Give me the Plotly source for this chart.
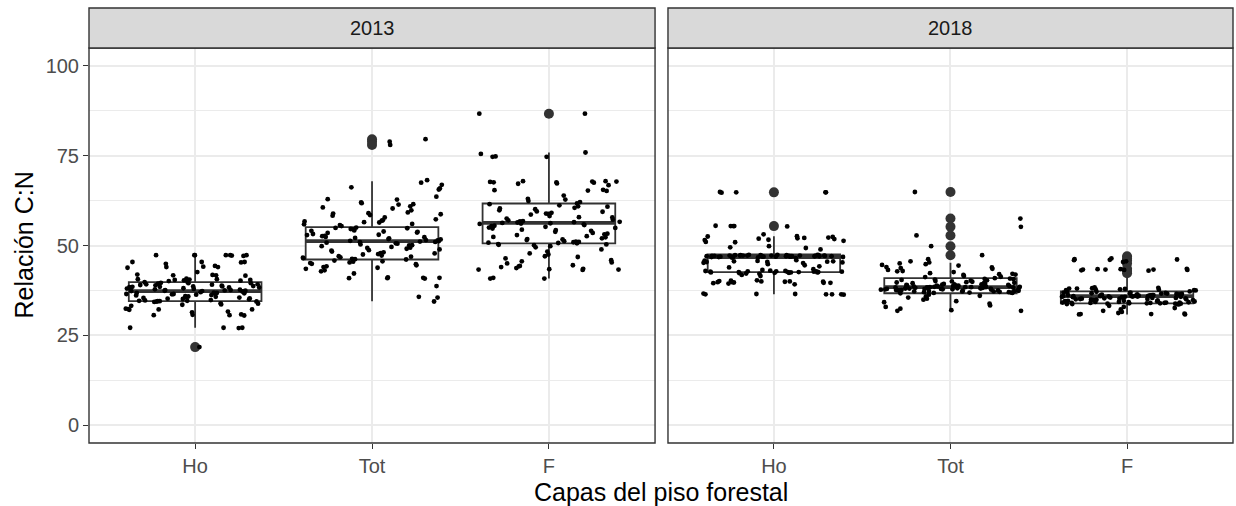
import plotly.graph_objects as go

# ---- categories and panels ----
capas = ["Ho", "Tot", "F"]
anios = ["2013", "2018"]

# ---- C:N ratio per forest-floor layer, 2013 ----
ho_2013 = [47.3, 47.3, 47.3, 47.2, 47.3, 47.3, 47.1, 47.3,
           45.4, 45.3, 45.4, 45.4, 44.9, 44.0, 44.1, 44.0, 43.8, 44.3,
           42.6, 41.7, 41.8, 41.6, 41.7, 41.9,
           40.6, 40.4, 40.5, 40.2, 40.8, 40.1, 39.9, 40.3, 40.6, 39.8, 40.4,
           39.5, 39.2, 39.6, 39.1, 39.4, 39.0, 39.3, 38.9, 39.5, 39.2, 38.8,
           38.6, 38.3, 38.5, 38.1, 38.4, 38.7, 38.2, 38.0, 38.5, 38.3, 38.6, 37.9,
           37.6, 37.4, 37.8, 37.2, 37.5, 37.1, 37.7, 37.3, 37.0, 37.4, 37.6, 37.3,
           36.8, 36.5, 36.9, 36.3, 36.6, 36.2, 36.7, 36.4, 36.1, 36.8, 36.5,
           35.8, 35.5, 35.9, 35.2, 35.6, 35.1, 35.7, 35.4, 35.0, 35.3,
           34.7, 34.5, 34.8, 34.4, 34.6, 34.5, 34.3, 34.6, 34.4,
           33.9, 33.6, 33.8, 33.2, 33.5,
           32.3, 32.2, 32.1, 32.4, 32.2, 31.6, 31.4,
           30.7, 30.6, 30.5, 30.6, 30.8,
           27.1, 27.1, 27.0, 27.1,
           21.7]

tot_2013 = [79.6, 78.9, 78.0,
            68.2, 66.9, 66.2, 65.6, 67.5, 65.9,
            63.6, 62.9, 62.8,
            62.0, 61.8, 61.4, 61.5, 60.6, 60.9, 60.3, 59.8, 59.2, 58.7, 59.0, 58.3,
            58.9, 58.5, 57.8,
            57.3, 56.9, 56.5, 57.0, 56.4, 56.0, 55.7, 55.9, 56.7, 55.4,
            55.0, 54.8, 54.5, 54.9, 54.2, 54.6, 53.9, 54.1, 53.6, 53.8, 53.2, 53.5,
            53.0, 52.7, 52.9, 52.4, 52.6, 52.1, 52.3, 51.8, 52.0, 51.5, 51.7, 51.3,
            51.4, 51.1, 51.2, 51.0, 50.8, 50.6, 50.9, 50.3, 50.5, 50.1, 49.8, 50.0,
            49.6, 49.4, 49.1, 48.9, 49.3, 48.6, 48.3, 48.7, 48.1, 47.8, 47.9, 47.5,
            47.2, 47.6, 46.9, 47.0, 46.6, 46.4, 46.7, 46.2, 46.1, 46.3,
            45.8, 45.5, 45.3, 45.6, 45.1, 44.8, 44.5, 44.9, 44.2, 43.8, 44.0, 43.5,
            43.1, 42.8, 42.2, 41.0, 40.9, 41.1, 40.8, 41.0, 40.9,
            38.7, 35.7, 35.5, 34.4]

f_2013 = [86.7, 86.7,
          75.9, 75.5, 74.8, 74.7, 74.7,
          67.8, 67.6, 67.7, 67.9, 67.8, 67.6, 67.3, 67.5, 66.8, 67.2, 67.9,
          65.3, 65.2, 65.5, 65.4,
          63.9, 63.0, 62.4, 62.8, 62.1,
          61.5, 61.7, 61.2, 60.9, 60.5, 60.8, 60.1, 59.8, 60.3, 59.5, 59.1, 59.4,
          58.8, 58.6, 58.2, 58.9, 57.9, 57.5, 57.8, 57.2, 57.0, 56.8, 56.5, 56.7,
          56.3, 56.1, 56.4, 56.2, 56.6, 55.9, 55.7, 56.0, 55.5, 55.2, 55.4, 54.9,
          54.7, 55.0, 54.4, 54.1, 53.8, 54.3, 53.5, 53.3, 52.9, 53.1, 52.6, 52.3,
          52.0, 52.4, 51.7, 51.5, 51.8, 51.2, 51.0, 50.8, 51.1, 50.7, 50.6, 50.9,
          50.3, 50.1, 50.4, 50.2, 49.5, 49.8, 48.9, 48.3, 47.8, 47.5, 47.0, 46.8,
          46.4, 45.9, 45.3, 45.0, 45.6, 44.5, 44.2, 44.0, 44.3, 43.7, 43.4, 43.3,
          43.2, 43.5, 43.3, 41.0, 40.8, 40.8]

# ---- C:N ratio per forest-floor layer, 2018 ----
ho_2018 = [64.9, 64.8, 64.8, 64.7, 64.8,
           55.3, 55.4, 55.5, 55.4, 55.4,
           53.1, 52.4, 52.6, 52.0, 51.8, 52.5, 51.9, 51.5, 52.2, 51.0, 51.3, 50.9,
           52.1, 51.6,
           49.8, 49.3, 48.9, 49.5,
           47.4, 47.2, 47.3, 47.1, 47.0, 46.9, 47.2, 47.3, 47.4, 47.0, 46.8, 47.1,
           47.2, 46.9, 47.3, 47.0, 47.2, 46.8, 47.1, 47.4, 46.9, 47.0, 47.3, 47.2,
           47.1, 46.7, 47.0, 46.8, 47.2, 47.1, 46.9, 47.3, 47.0, 46.6, 47.1, 46.8,
           47.2, 46.9, 47.0, 46.5,
           45.9, 45.6, 45.4, 45.7, 45.2, 45.5, 45.8, 45.3, 45.6, 45.1, 45.4, 44.8,
           44.5, 44.2, 43.9,
           42.8, 42.6, 42.5, 42.7, 42.9, 42.4, 42.6, 42.3, 42.8, 42.5, 42.7, 42.6,
           43.0, 42.4, 42.9, 42.6, 42.2, 42.7, 42.5, 42.8, 43.2, 43.4, 42.1, 41.8,
           41.5,
           40.3, 40.0, 39.8, 39.9, 39.6, 40.1, 39.7, 39.9, 40.2, 39.5, 39.8, 39.4,
           40.0, 39.6, 39.2,
           36.5, 36.4, 36.4, 36.5, 36.3, 36.4, 36.6, 36.4]

tot_2018 = [64.9, 57.5, 55.2, 52.8, 49.8, 47.3,
            46.2, 45.6, 45.3, 44.8, 44.4, 44.0, 43.9, 43.5, 43.2, 42.9, 42.6, 45.0,
            44.6, 43.7, 42.8,
            42.3, 42.0, 41.8, 41.5, 41.3, 41.9, 41.2, 42.1,
            40.9, 40.6, 40.8, 40.4, 40.2, 40.5, 40.1, 39.9, 40.3, 39.7, 39.5, 39.8,
            39.4, 39.2, 39.6, 39.1, 39.0, 38.9, 39.3, 38.8, 38.7, 38.9, 38.6, 38.5,
            38.7, 38.4, 38.6, 38.3, 38.5, 38.2, 38.4, 38.1, 38.3, 38.0, 38.2, 37.9,
            38.1, 37.8, 38.0, 37.7, 37.9, 37.6, 37.8, 37.5, 37.7, 37.4, 37.6, 37.3,
            37.5, 37.2, 37.4, 37.1, 37.3, 37.0, 36.9, 37.2, 36.8, 37.0, 36.7, 36.9,
            36.8, 38.5, 38.4, 38.6, 38.3, 38.2, 38.4, 38.5, 38.1, 38.3, 37.9, 38.0,
            38.2, 37.8, 38.6, 39.0, 39.2, 38.8, 38.7, 40.0, 40.7, 39.5, 37.6, 37.4,
            37.2,
            36.3, 36.0, 35.8, 35.5, 35.2, 34.9, 34.5, 34.2, 33.8, 33.3, 32.9, 32.4,
            32.0, 31.8, 31.8]

f_2018 = [46.0, 45.9, 46.2, 46.4, 45.6, 46.1, 45.4,
          43.3, 43.2, 43.4, 43.3, 43.1, 43.5, 43.2, 43.3, 43.4, 43.0,
          38.3, 38.0, 37.8, 38.1, 37.9, 37.6, 38.2, 37.7, 37.5, 38.0, 37.8, 37.6,
          37.2, 37.0, 36.9, 37.1, 36.8, 36.7, 36.9, 36.6, 36.5, 36.7, 36.4, 36.6,
          36.3, 36.5, 36.2, 36.4, 36.1, 36.3, 36.0, 36.2, 35.9, 36.1, 35.8, 36.0,
          35.9, 35.7, 35.8, 35.6, 35.9, 35.5, 35.7, 35.4, 35.6, 35.3, 35.5, 35.2,
          35.4, 35.1, 35.3, 35.0, 35.2, 34.9, 35.1, 34.8, 35.0, 34.7, 34.9, 34.6,
          34.8, 34.5, 34.7, 34.4, 34.6, 34.3, 34.5, 34.2, 34.4, 34.1, 34.3, 34.0,
          34.2, 33.9, 34.1, 33.8, 34.0, 33.7, 33.9, 33.6, 33.8, 33.7, 36.0, 35.9,
          36.1, 35.8, 36.2, 35.7, 36.0, 35.9, 34.0, 33.9, 34.1, 33.8, 34.0, 33.7,
          33.2, 32.9, 32.6, 32.2, 31.8, 31.5, 31.2, 30.9, 30.8, 31.0, 30.8, 30.9]

puntos = {"2013": [ho_2013, tot_2013, f_2013],
          "2018": [ho_2018, tot_2018, f_2018]}

# ---- box summaries (Ho, Tot, F) ----
q1 = {"2013": [34.5, 46.1, 50.6], "2018": [42.6, 36.7, 33.9]}
mediana = {"2013": [37.3, 51.2, 56.3], "2018": [46.8, 38.4, 35.9]}
q3 = {"2013": [39.8, 55.1, 61.7], "2018": [47.5, 40.9, 37.2]}
bigote_inf = {"2013": [27.1, 34.5, 40.8], "2018": [36.4, 31.8, 30.8]}
bigote_sup = {"2013": [47.3, 67.9, 75.9], "2018": [52.6, 45.2, 41.0]}

# ---- outliers flagged by the boxplot ----
atipicos_cat = {"2013": [0, 1, 1, 1, 2],
                "2018": [0, 0, 1, 1, 1, 1, 1, 1, 2, 2, 2, 2, 2, 2, 2]}
atipicos_val = {"2013": [21.7, 79.6, 78.9, 78.0, 86.7],
                "2018": [64.8, 55.4, 64.9, 57.5, 55.2, 52.8, 49.8, 47.3,
                         47.0, 46.4, 45.8, 45.0, 43.5, 42.9, 42.3]}

y_ticks = [0, 25, 50, 75, 100]

DARK = "#333333"
GRID = "#EBEBEB"
FONT = "Liberation Sans, Arial, sans-serif"
BOX_W = 0.75
JITTER_W = 0.4  # horizontal jitter half-width, in category units
GOLDEN = 0.6180339887
SQRT2 = 1.4142135624


def jitter_offsets(n, phase):
    """Deterministic scattered horizontal offsets in [-JITTER_W, JITTER_W]."""
    offs = []
    for k in range(n):
        u = ((k + 1) * GOLDEN + ((k * k) % 11) * SQRT2 / 11 + phase) % 1.0
        offs.append((u - 0.5) * 2 * JITTER_W)
    return offs


fig = go.Figure()
axes = [("x", "y"), ("x2", "y2")]

for (xa, ya), anio in zip(axes, anios):
    pos = list(range(len(capas)))
    # boxes from the summary statistics
    fig.add_trace(go.Box(
        x=pos, q1=q1[anio], median=mediana[anio], q3=q3[anio],
        lowerfence=bigote_inf[anio], upperfence=bigote_sup[anio],
        width=BOX_W, whiskerwidth=0, boxpoints=False,
        fillcolor="white", line=dict(color=DARK, width=1.8),
        xaxis=xa, yaxis=ya, showlegend=False, hoverinfo="skip"))
    # thicker median bars
    mx, my = [], []
    for p, m in zip(pos, mediana[anio]):
        mx += [p - BOX_W / 2, p + BOX_W / 2, None]
        my += [m, m, None]
    fig.add_trace(go.Scatter(
        x=mx, y=my, mode="lines", line=dict(color=DARK, width=3.8),
        xaxis=xa, yaxis=ya, showlegend=False, hoverinfo="skip"))
    # outliers at the box centre
    fig.add_trace(go.Scatter(
        x=atipicos_cat[anio], y=atipicos_val[anio], mode="markers",
        marker=dict(color=DARK, size=10),
        xaxis=xa, yaxis=ya, showlegend=False))
    # jittered observations
    for p, vals in zip(pos, puntos[anio]):
        offs = jitter_offsets(len(vals), phase=0.13 * (p + 1) + (0.37 if anio == "2018" else 0))
        fig.add_trace(go.Scatter(
            x=[p + o for o in offs], y=vals, mode="markers",
            marker=dict(color="black", size=4.8),
            xaxis=xa, yaxis=ya, showlegend=False,
            hovertemplate=capas[p] + ": %{y}<extra>" + anio + "</extra>"))

PLOT_H = 395
STRIP_H = 40
x_dom = [[0.0, 0.4948], [0.5061, 1.0]]

common_x = dict(range=[-0.6, 2.6], tickmode="array", tickvals=[0, 1, 2], ticktext=capas,
                showgrid=True, gridcolor=GRID, gridwidth=1.5, zeroline=False,
                ticks="outside", ticklen=5, tickwidth=1.2, tickcolor=DARK,
                tickfont=dict(family=FONT, size=20, color="#4D4D4D"),
                showline=False, fixedrange=True)
common_y = dict(range=[-5, 105], tickmode="array", tickvals=y_ticks,
                showgrid=True, gridcolor=GRID, gridwidth=1.5, zeroline=False,
                minor=dict(tick0=0, dtick=12.5, showgrid=True, gridcolor=GRID,
                           gridwidth=0.8, ticks=""),
                showline=False, fixedrange=True)

fig.update_layout(
    width=1236, height=506,
    margin=dict(l=89, r=3, t=48, b=63),
    plot_bgcolor="white", paper_bgcolor="white",
    boxmode="overlay",
    xaxis=dict(domain=x_dom[0], anchor="y", **common_x),
    xaxis2=dict(domain=x_dom[1], anchor="y2", **common_x),
    yaxis=dict(anchor="x", ticks="outside", ticklen=5, tickwidth=1.2, tickcolor=DARK,
               tickfont=dict(family=FONT, size=20, color="#4D4D4D"), **common_y),
    yaxis2=dict(anchor="x2", matches="y", showticklabels=False, ticks="", **common_y),
    font=dict(family=FONT),
)

shapes = []
annotations = []
for dom, anio in zip(x_dom, anios):
    # panel border
    shapes.append(dict(type="rect", xref="paper", yref="paper",
                       x0=dom[0], x1=dom[1], y0=0, y1=1,
                       line=dict(color=DARK, width=1.4), fillcolor="rgba(0,0,0,0)",
                       layer="above"))
    # facet strip
    shapes.append(dict(type="rect", xref="paper", yref="paper",
                       x0=dom[0], x1=dom[1], y0=1, y1=1 + STRIP_H / PLOT_H,
                       line=dict(color=DARK, width=1.4), fillcolor="#D9D9D9",
                       layer="above"))
    annotations.append(dict(text=anio, xref="paper", yref="paper",
                            x=(dom[0] + dom[1]) / 2, y=1 + (STRIP_H / 2) / PLOT_H,
                            xanchor="center", yanchor="middle", showarrow=False,
                            font=dict(family=FONT, size=20, color="#1A1A1A")))

annotations.append(dict(text="Capas del piso forestal", xref="paper", yref="paper",
                        x=0.5, y=-(492 - 443) / PLOT_H, xanchor="center", yanchor="middle",
                        showarrow=False, font=dict(family=FONT, size=25, color="black")))
annotations.append(dict(text="Relación C:N", xref="paper", yref="paper",
                        x=-(89 - 23) / 1144, y=0.5, xanchor="center", yanchor="middle",
                        textangle=-90, showarrow=False,
                        font=dict(family=FONT, size=25, color="black")))

fig.update_layout(shapes=shapes, annotations=annotations)

fig.write_html("out.html")
